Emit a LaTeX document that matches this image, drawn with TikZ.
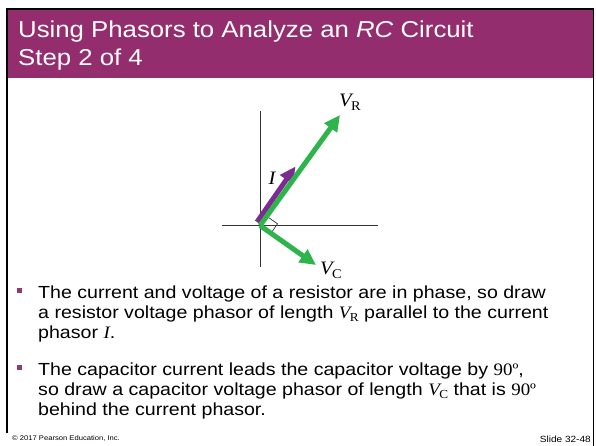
\documentclass[tikz,border=0pt]{standalone}
\usepackage{fontspec}
\setmainfont[FakeStretch=1.12]{Liberation Sans}
\newfontfamily\tnr[FakeStretch=1.08]{Liberation Serif}
\newfontfamily\tnrplain{Liberation Serif}
\usetikzlibrary{arrows.meta}
\definecolor{titlebar}{RGB}{148,45,110}
\definecolor{bulletc}{RGB}{142,58,118}
\definecolor{phgreen}{RGB}{45,180,74}
\definecolor{phpurple}{RGB}{124,44,145}
\newcommand{\Vsub}[1]{{\tnr\itshape V}\kern-0.5pt{\tnr\raisebox{-0.22em}{\fontsize{0.7\dimexpr\fontdimen6\font\relax}{1}\selectfont\upshape #1}}}
\newcommand{\degsym}{{\tnr 90º}}
\tikzset{
  bodytext/.style={anchor=base west, inner sep=0pt, font=\fontsize{17.5}{20}\selectfont, text=black},
  titletext/.style={anchor=base west, inner sep=0pt, font=\fontsize{23}{26}\selectfont, text=white},
  bulletsq/.style={fill=bulletc, draw=none, minimum size=5pt, inner sep=0pt},
  axis/.style={draw=black!80, line width=0.9pt},
  greenph/.style={draw=phgreen, line width=5pt, -{Triangle[length=16pt,width=15pt]}},
  purpleph/.style={draw=phpurple, line width=5pt, -{Triangle[length=16pt,width=15pt]}},
  phlabel/.style={inner sep=0pt, font=\fontsize{19}{21}\selectfont},
}
\begin{document}
\begin{tikzpicture}[x=1pt,y=-1pt]
\useasboundingbox (0,0) rectangle (596,446);
\fill[white] (0,0) rectangle (596,446);
% frame
\fill[titlebar] (7,9) rectangle (593,78);
\draw[black, line width=2pt] (6,9) -- (594,9);
\draw[black, line width=1.5pt] (7,9) -- (7,433);
\draw[black, line width=1.5pt] (593.5,9) -- (593.5,446);
% title
\node[titletext] (t1) at (18,38) {Using Phasors to Analyze an \textit{RC} Circuit};
\node[titletext] (t2) at (18,66) {Step 2 of 4};
% axes
\coordinate (O) at (260,225.5);
\coordinate (yt) at (260,111);
\coordinate (yb) at (260,267);
\coordinate (xl) at (222,225.5);
\coordinate (xr) at (378,225.5);
\draw[axis] (yt) -- (yb);
\draw[axis] (xl) -- (xr);
% right angle marker
\coordinate (ma) at (268.5,217.5);
\coordinate (mb) at (277.5,223.8);
\coordinate (mc) at (271.5,232.5);
\draw[black!80, line width=0.7pt] (ma) -- (mb) -- (mc);
% phasors
\coordinate (Is) at (257,222);
\coordinate (Ie) at (295.5,166.5);
\coordinate (VRe) at (340,115);
\coordinate (VCe) at (316,265);
\draw[purpleph] (Is) -- (Ie);
\draw[greenph] (O) -- (VRe);
\draw[greenph] (O) -- (VCe);
% labels
\node[phlabel] (lVR) at (350,102) {\Vsub{R}};
\node[phlabel] (lI) at (272,178) {\tnr\itshape I};
\node[phlabel] (lVC) at (331,270) {\Vsub{C}};
% bullets
\node[bulletsq] (b1) at (19.7,290) {};
\node[bulletsq] (b2) at (19.7,367) {};
\node[bodytext] (l1) at (38,298) {The current and voltage of a resistor are in phase, so draw};
\node[bodytext] (l2) at (38,318) {a resistor voltage phasor of length \Vsub{R} parallel to the current};
\node[bodytext] (l3) at (38,338) {phasor {\tnr\itshape I}.};
\node[bodytext] (l4) at (38,375) {The capacitor current leads the capacitor voltage by \degsym,};
\node[bodytext] (l5) at (38,395) {so draw a capacitor voltage phasor of length \Vsub{C} that is \degsym};
\node[bodytext] (l6) at (38,415) {behind the current phasor.};
% footer
\node[anchor=base west, inner sep=0pt, font=\fontsize{6.8}{8}\selectfont] (f1) at (12,440) {© 2017 Pearson Education, Inc.};
\node[anchor=base east, inner sep=0pt, font=\fontsize{9}{11}\selectfont] (f2) at (591,442.5) {Slide 32-48};
\end{tikzpicture}
\end{document}
